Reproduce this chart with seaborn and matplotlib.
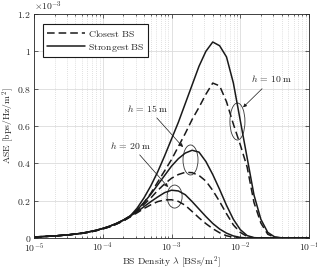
import numpy as np
import pandas as pd
import matplotlib
matplotlib.use("Agg")
import matplotlib.pyplot as plt
import matplotlib.transforms as mtransforms
from matplotlib.patches import Ellipse
from matplotlib.lines import Line2D
from matplotlib.ticker import FixedLocator, FuncFormatter, LogLocator, NullFormatter
import seaborn as sns

# BS density samples, exponent of 10 (every 0.1 decade from 1e-5 to 1e-1)
lam_exp = np.round(np.linspace(-5, -1, 41), 1)

# ASE, in units of 1e-3 bps/Hz/m^2
common_solid = [0.006, 0.007, 0.009, 0.011, 0.014, 0.017, 0.021, 0.026, 0.033, 0.041,
                0.051, 0.063, 0.078, 0.096, 0.118]
common_dash = [0.006, 0.007, 0.009, 0.011, 0.014, 0.017, 0.021, 0.025, 0.031, 0.039,
               0.049, 0.060, 0.075, 0.092, 0.114]

h10_strongest = [0.16, 0.215, 0.28, 0.355, 0.44, 0.53, 0.62, 0.72, 0.82, 0.92,
                 1.00, 1.05, 1.03, 0.97, 0.83, 0.63, 0.43, 0.23, 0.10, 0.03,
                 0.006, 0.001, 0, 0, 0, 0]
h10_closest = [0.15, 0.19, 0.24, 0.30, 0.36, 0.42, 0.49, 0.56, 0.635, 0.70,
               0.77, 0.83, 0.815, 0.73, 0.61, 0.50, 0.38, 0.19, 0.08, 0.02,
               0.004, 0, 0, 0, 0, 0]
h15_strongest = [0.15, 0.19, 0.235, 0.285, 0.335, 0.385, 0.425, 0.455, 0.47, 0.46,
                 0.41, 0.34, 0.26, 0.175, 0.10, 0.045, 0.013, 0.002, 0, 0,
                 0, 0, 0, 0, 0, 0]
h15_closest = [0.145, 0.18, 0.215, 0.255, 0.29, 0.32, 0.34, 0.352, 0.35, 0.335,
               0.305, 0.255, 0.195, 0.13, 0.07, 0.03, 0.008, 0.001, 0, 0,
               0, 0, 0, 0, 0, 0]
h20_strongest = [0.14, 0.168, 0.195, 0.22, 0.243, 0.256, 0.252, 0.232, 0.195, 0.155,
                 0.115, 0.078, 0.048, 0.026, 0.011, 0.003, 0, 0, 0, 0,
                 0, 0, 0, 0, 0, 0]
h20_closest = [0.135, 0.158, 0.178, 0.195, 0.204, 0.205, 0.196, 0.175, 0.142, 0.108,
               0.077, 0.05, 0.028, 0.012, 0.004, 0.001, 0, 0, 0, 0,
               0, 0, 0, 0, 0, 0]

heights = ["h10", "h15", "h20"]
curves = {
    ("Strongest BS", "h10"): common_solid + h10_strongest,
    ("Closest BS", "h10"): common_dash + h10_closest,
    ("Strongest BS", "h15"): common_solid + h15_strongest,
    ("Closest BS", "h15"): common_dash + h15_closest,
    ("Strongest BS", "h20"): common_solid + h20_strongest,
    ("Closest BS", "h20"): common_dash + h20_closest,
}

rows = []
for (assoc, h), vals in curves.items():
    for e, v in zip(lam_exp, vals):
        rows.append({"lam": 10.0 ** e, "ase": v, "assoc": assoc, "h": h})
df = pd.DataFrame(rows)

sns.set_theme(style="ticks")
plt.rcParams["mathtext.fontset"] = "cm"
plt.rcParams["font.family"] = ["DejaVu Serif"]

FS = 7

fig = plt.figure(figsize=(3.17, 2.70), dpi=100)
ax = fig.add_axes([34 / 317, 32 / 270, 275 / 317, 224 / 270])

sns.lineplot(data=df, x="lam", y="ase", style="assoc", units="h", estimator=None,
             color="k", linewidth=1.1, ax=ax, legend=False,
             dashes={"Strongest BS": "", "Closest BS": (5, 2.6)},
             sort=False)

ax.set_xscale("log")
ax.set_xlim(1e-5, 1e-1)
ax.set_ylim(0, 1.2)

# ticks
ax.xaxis.set_major_locator(FixedLocator([1e-5, 1e-4, 1e-3, 1e-2, 1e-1]))
ax.xaxis.set_minor_locator(LogLocator(base=10, subs=np.arange(2, 10)))
ax.xaxis.set_minor_formatter(NullFormatter())
ax.xaxis.set_major_formatter(FuncFormatter(lambda v, p: r"$10^{%d}$" % round(np.log10(v))))
ax.yaxis.set_major_locator(FixedLocator([0, 0.2, 0.4, 0.6, 0.8, 1.0, 1.2]))
ax.yaxis.set_major_formatter(FuncFormatter(lambda v, p: r"$%g$" % round(v, 1)))
ax.tick_params(which="both", direction="in", top=True, right=True, colors="#262626",
               labelsize=FS, width=0.5)
ax.tick_params(which="major", length=3, pad=2)
ax.tick_params(which="minor", length=1.6)

# grid
ax.grid(which="major", color="#dcdcdc", linewidth=0.6, linestyle="-")
ax.grid(which="minor", axis="x", color="#c4c4c4", linewidth=0.5, linestyle=(0, (1, 2)))
ax.set_axisbelow(True)
for s in ax.spines.values():
    s.set_linewidth(0.6)
    s.set_color("#262626")

ax.set_xlabel(r"$\mathrm{BS\ Density}\ \lambda\ [\mathrm{BSs/m}^2]$", fontsize=FS,
              color="#262626", labelpad=0)
ax.set_ylabel(r"$\mathrm{ASE}\ [\mathrm{bps/Hz/m}^2]$", fontsize=FS,
              color="#262626", labelpad=1)
ax.text(0.0, 1.005, r"$\times10^{-3}$", transform=ax.transAxes, fontsize=FS,
        ha="left", va="bottom", color="#262626")

# legend
handles = [Line2D([], [], color="k", lw=1.1, dashes=(5, 2.6)),
           Line2D([], [], color="k", lw=1.1)]
leg = ax.legend(handles, [r"$\mathrm{Closest\ BS}$", r"$\mathrm{Strongest\ BS}$"],
                loc="upper left", bbox_to_anchor=(0.025, 0.965), fontsize=FS,
                handlelength=3.9, handletextpad=0.35, borderpad=0.4, labelspacing=0.3,
                borderaxespad=0.2, fancybox=False, framealpha=1, edgecolor="k")
leg.get_frame().set_linewidth(0.8)

# height annotations: ellipse around each curve pair plus an arrow from the label
ell_pos = {"h10": (9.1e-3, 0.624, 0.15, 0.37),
           "h15": (1.89e-3, 0.418, 0.15, 0.30),
           "h20": (1.11e-3, 0.222, 0.15, 0.23)}
labels = {"h10": (r"$h\,=\,10\ \mathrm{m}$", (2.9e-2, 0.852), (1.1e-2, 0.70)),
          "h15": (r"$h\,=\,15\ \mathrm{m}$", (4.55e-4, 0.696), (1.47e-3, 0.487)),
          "h20": (r"$h\,=\,20\ \mathrm{m}$", (2.58e-4, 0.498), (8.9e-4, 0.273))}
for h in heights:
    cx, cy, w, hh = ell_pos[h]
    tr = fig.dpi_scale_trans + mtransforms.ScaledTranslation(cx, cy, ax.transData)
    ax.add_patch(Ellipse((0, 0), w, hh, transform=tr, fill=False,
                         edgecolor="#333333", linewidth=0.6))
    txt, tpos, apos = labels[h]
    ax.annotate(txt, xy=apos, xytext=tpos, fontsize=FS, ha="center", va="center",
                color="#262626",
                arrowprops=dict(arrowstyle="-|>", color="k", lw=0.5,
                                mutation_scale=5, shrinkA=1, shrinkB=0))

fig.savefig("out.png", dpi=100)
